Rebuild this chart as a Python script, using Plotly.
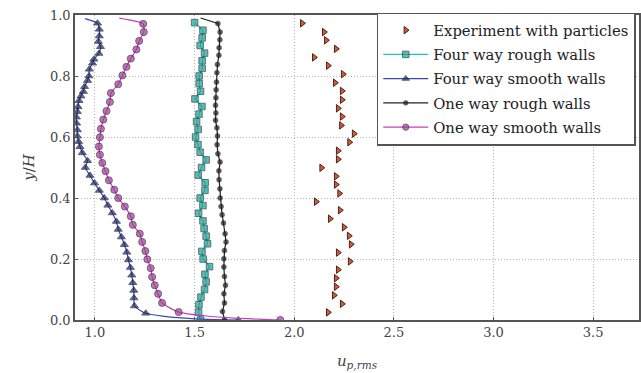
import plotly.graph_objects as go

# ---- Experimental particle r.m.s. velocity --------------------------------
exp_y = [0.973, 0.944, 0.917, 0.889, 0.861, 0.834, 0.806, 0.778, 0.751, 0.722,
         0.694, 0.667, 0.638, 0.611, 0.583, 0.555, 0.527, 0.499, 0.471, 0.444,
         0.415, 0.388, 0.360, 0.332, 0.304, 0.276, 0.248, 0.221, 0.192, 0.165,
         0.137, 0.109, 0.081, 0.053, 0.025]
exp_u = [2.04, 2.15, 2.16, 2.21, 2.10, 2.17, 2.245, 2.205, 2.24, 2.24,
         2.22, 2.24, 2.236, 2.30, 2.277, 2.22, 2.22, 2.137, 2.21, 2.21,
         2.227, 2.11, 2.23, 2.18, 2.25, 2.275, 2.285, 2.22, 2.28, 2.22,
         2.21, 2.21, 2.20, 2.24, 2.17]

# ---- Four way coupling, rough walls ----------------------------------------
fwr_y = [0.975, 0.950, 0.925, 0.900, 0.875, 0.850, 0.825, 0.800, 0.775, 0.750,
         0.725, 0.700, 0.675, 0.650, 0.625, 0.600, 0.575, 0.550, 0.525, 0.500,
         0.475, 0.450, 0.425, 0.400, 0.375, 0.350, 0.325, 0.300, 0.275, 0.250,
         0.225, 0.200, 0.175, 0.150, 0.125, 0.100, 0.075, 0.050, 0.025, 0.000]
fwr_u = [1.500, 1.542, 1.538, 1.528, 1.550, 1.538, 1.538, 1.523, 1.523, 1.530,
         1.502, 1.537, 1.522, 1.510, 1.518, 1.505, 1.517, 1.528, 1.558, 1.535,
         1.518, 1.553, 1.552, 1.528, 1.542, 1.520, 1.542, 1.548, 1.558, 1.565,
         1.537, 1.543, 1.575, 1.552, 1.558, 1.550, 1.532, 1.522, 1.520, 1.530]
fwr_mark = [1] * 40

# ---- Four way coupling, smooth walls ---------------------------------------
fws_y = [0.988, 0.973, 0.953, 0.931, 0.913, 0.896, 0.874, 0.855, 0.842, 0.822,
         0.800, 0.785, 0.765, 0.749, 0.734, 0.719, 0.699, 0.683, 0.665, 0.645,
         0.623, 0.603, 0.585, 0.568, 0.548, 0.522, 0.500, 0.474, 0.449, 0.425,
         0.400, 0.376, 0.351, 0.323, 0.297, 0.272, 0.247, 0.222, 0.197, 0.172,
         0.147, 0.122, 0.097, 0.072, 0.046, 0.022, 0.012, 0.006, 0.002, 0.000]
fws_u = [0.950, 1.013, 1.022, 1.022, 1.017, 1.028, 1.020, 0.995, 0.988, 0.972,
         0.970, 0.963, 0.948, 0.942, 0.930, 0.920, 0.915, 0.912, 0.907, 0.908,
         0.912, 0.912, 0.918, 0.925, 0.937, 0.963, 0.952, 0.975, 0.998, 1.022,
         1.047, 1.065, 1.087, 1.108, 1.117, 1.133, 1.148, 1.160, 1.168, 1.178,
         1.185, 1.190, 1.195, 1.196, 1.198, 1.255, 1.350, 1.450, 1.560, 1.720]
fws_mark = [0] + [1] * 45 + [0, 0, 0, 1]

# ---- One way coupling, rough walls -----------------------------------------
owr_y = [0.990, 0.972, 0.944, 0.919, 0.893, 0.868, 0.838, 0.811, 0.780, 0.755,
         0.729, 0.704, 0.679, 0.655, 0.630, 0.603, 0.575, 0.545, 0.518, 0.489,
         0.460, 0.430, 0.400, 0.372, 0.345, 0.318, 0.283, 0.256, 0.228, 0.201,
         0.174, 0.143, 0.114, 0.086, 0.056, 0.028, 0.002]
owr_u = [1.530, 1.617, 1.628, 1.627, 1.623, 1.622, 1.615, 1.612, 1.610, 1.608,
         1.607, 1.605, 1.607, 1.605, 1.612, 1.615, 1.613, 1.617, 1.628, 1.622,
         1.623, 1.627, 1.628, 1.633, 1.638, 1.645, 1.653, 1.658, 1.650, 1.647,
         1.647, 1.650, 1.655, 1.647, 1.650, 1.640, 1.650]
owr_mark = [0] + [1] * 36

# ---- One way coupling, smooth walls ----------------------------------------
ows_y = [0.990, 0.971, 0.944, 0.915, 0.887, 0.857, 0.830, 0.802, 0.773, 0.744,
         0.715, 0.685, 0.657, 0.627, 0.599, 0.569, 0.542, 0.515, 0.488, 0.458,
         0.427, 0.400, 0.372, 0.340, 0.312, 0.283, 0.256, 0.226, 0.199, 0.170,
         0.141, 0.114, 0.086, 0.056, 0.026, 0.014, 0.006, 0.002, 0.000]
ows_u = [1.122, 1.242, 1.245, 1.222, 1.208, 1.180, 1.158, 1.138, 1.117, 1.080,
         1.075, 1.058, 1.042, 1.030, 1.025, 1.020, 1.025, 1.037, 1.053, 1.070,
         1.097, 1.117, 1.150, 1.180, 1.190, 1.225, 1.237, 1.253, 1.263, 1.280,
         1.287, 1.300, 1.317, 1.337, 1.420, 1.550, 1.700, 1.850, 1.930]
ows_mark = [0] + [1] * 34 + [0, 0, 0, 1]

x_ticks = [1.0, 1.5, 2.0, 2.5, 3.0, 3.5]
y_ticks = [0.0, 0.2, 0.4, 0.6, 0.8, 1.0]

SERIF = "DejaVu Serif"


def sized(flags, size):
    return [size if f else 0 for f in flags]


def edge(flags, width):
    return [width if f else 0 for f in flags]


fig = go.Figure()

fig.add_trace(go.Scatter(
    x=exp_u, y=exp_y, mode="markers", name="Experiment with particles",
    legendgroup="g1",
    marker=dict(symbol="triangle-right", size=6.5, color="#e2552b",
                line=dict(color="#3a2a25", width=1)),
))

fig.add_trace(go.Scatter(
    x=fwr_u, y=fwr_y, mode="lines+markers", name="Four way rough walls",
    legendgroup="g2",
    line=dict(color="#22c4c0", width=1.2),
    marker=dict(symbol="square", size=sized(fwr_mark, 6.5), color="#17a39b",
                line=dict(color="#1d3533", width=edge(fwr_mark, 1))),
))

fig.add_trace(go.Scatter(
    x=fws_u, y=fws_y, mode="lines+markers", name="Four way smooth walls",
    legendgroup="g3",
    line=dict(color="#3c47b4", width=1.2, shape="spline", smoothing=0.6),
    marker=dict(symbol="triangle-up", size=sized(fws_mark, 7), color="#1e2860",
                line=dict(color="#141a3c", width=edge(fws_mark, 1))),
))

fig.add_trace(go.Scatter(
    x=owr_u, y=owr_y, mode="lines+markers", name="One way rough walls",
    legendgroup="g4",
    line=dict(color="#222222", width=1.2),
    marker=dict(symbol="circle", size=sized(owr_mark, 5), color="#1c1c1c",
                line=dict(color="#111111", width=edge(owr_mark, 0.5))),
))

fig.add_trace(go.Scatter(
    x=ows_u, y=ows_y, mode="lines+markers", name="One way smooth walls",
    legendgroup="g5",
    line=dict(color="#c244b4", width=1.2, shape="spline", smoothing=0.6),
    marker=dict(symbol="circle", size=sized(ows_mark, 7), color="#a03c98",
                line=dict(color="#3a1a38", width=edge(ows_mark, 1))),
))

axis_common = dict(
    showline=True, linecolor="#555555", linewidth=1.5, mirror=True,
    showgrid=True, gridcolor="#b4b4b4", griddash="1px,2px", gridwidth=1,
    ticks="inside", ticklen=3, tickcolor="#555555",
    tickfont=dict(family=SERIF, size=13, color="#444444"),
    zeroline=False,
)

fig.update_layout(
    width=641, height=373,
    margin=dict(l=75, r=0, t=15, b=53),
    paper_bgcolor="white", plot_bgcolor="white",
    font=dict(family=SERIF, color="#222222"),
    xaxis=dict(range=[0.9, 3.73], tickvals=x_ticks,
               ticktext=[f"{v:.1f}" for v in x_ticks],
               title=dict(text="<i>u</i><sub><i>p,rms</i></sub>",
                          font=dict(family=SERIF, size=15, color="#444444"),
                          standoff=16),
               **axis_common),
    yaxis=dict(range=[0.0, 1.0], tickvals=y_ticks,
               ticktext=[f"{v:.1f}" for v in y_ticks],
               title=dict(text="<i>y</i>/<i>H</i>",
                          font=dict(family=SERIF, size=15, color="#444444"),
                          standoff=12),
               **axis_common),
    legend=dict(x=0.535, y=1.008, xanchor="left", yanchor="top",
                bgcolor="white", bordercolor="#555555", borderwidth=1.5,
                font=dict(family=SERIF, size=14.8, color="#222222"),
                itemwidth=45, tracegroupgap=2),
    showlegend=True,
)

fig.write_html("out.html")
